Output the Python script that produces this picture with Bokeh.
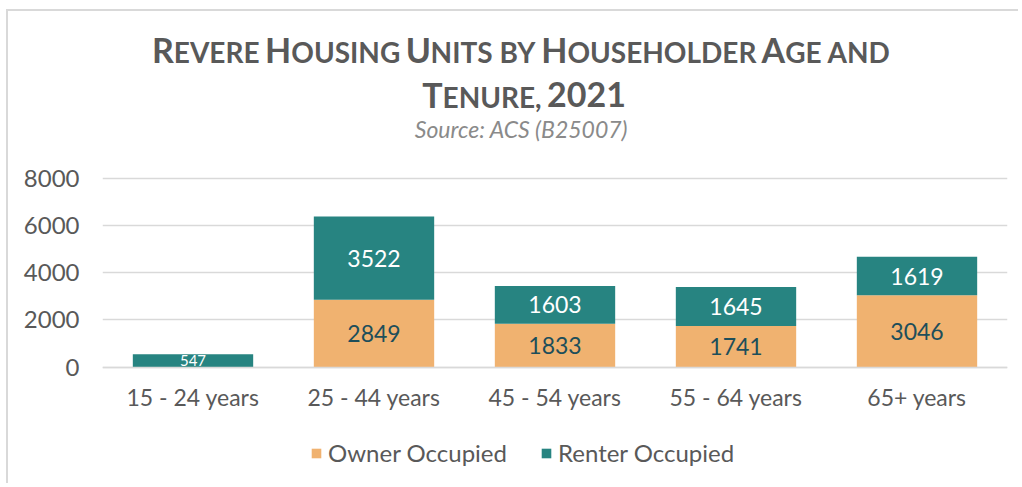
from bokeh.plotting import figure
from bokeh.models import (ColumnDataSource, Range1d, FactorRange, FixedTicker,
                          LabelSet, Label, Legend, LegendItem)
from bokeh.core.properties import value
from bokeh.embed import file_html
from bokeh.resources import INLINE

# ---------------- data ----------------
categories = ["15 - 24 years", "25 - 44 years", "45 - 54 years", "55 - 64 years", "65+ years"]
owner = [0, 2849, 1833, 1741, 3046]
renter = [547, 3522, 1603, 1645, 1619]
series = ["Owner Occupied", "Renter Occupied"]
y_ticks = [0, 2000, 4000, 6000, 8000]
title_lines = ["Revere Housing Units by Householder Age and", "Tenure, 2021"]
subtitle = "Source: ACS (B25007)"

# ---------------- style / layout ----------------
ORANGE = "#F0B270"
TEAL = "#278481"
GRAY = "#595959"
FONT = "Lato"
OX, OY = 8, 11          # canvas offset on the page (css margin + border)
W, H = 1012, 474
ML, MR = 94, 13
FW = W - ML - MR
PXU = (366.7 - 177.5) / 8000.0     # pixels per unit
Y0 = 366.7 - OY                    # canvas y of value 0
YTOP = Y0 / PXU
YBOT = -(H - Y0) / PXU


def dx(page_x):
    return (page_x - OX - ML) / (FW / len(categories))


def dy(page_y):
    return (Y0 - (page_y - OY)) / PXU


p = figure(x_range=FactorRange(*categories), y_range=Range1d(YBOT, YTOP),
           width=W, height=H, output_backend="svg", toolbar_location=None,
           min_border_left=ML, min_border_right=MR, min_border_top=0,
           min_border_bottom=0)
p.outline_line_color = None
p.background_fill_color = "white"
p.border_fill_color = "white"
p.styles = {"margin-left": "6px", "margin-top": "9px",
            "border-left": "2px solid #D9D9D9", "border-top": "2px solid #D9D9D9"}

src = ColumnDataSource(dict(cat=categories, owner=owner, renter=renter))
rs = p.vbar_stack(["owner", "renter"], x="cat", width=0.665, color=[ORANGE, TEAL],
                  line_color=None, source=src)

# data labels
lx, ly, lt, lc, ls = [], [], [], [], []
for c, o, r in zip(categories, owner, renter):
    if o > 0:
        lx.append(c); ly.append(o / 2); lt.append(str(o)); lc.append("#1D4E5A"); ls.append("23px")
    lx.append(c); ly.append(o + r / 2); lt.append(str(r)); lc.append("white")
    ls.append("23px" if r > 1000 else "15px")
lab_src = ColumnDataSource(dict(x=lx, y=ly, t=lt, c=lc, s=ls))
p.add_layout(LabelSet(x="x", y="y", text="t", source=lab_src, text_align="center",
                      text_baseline="middle", text_color="c", text_font_size="s",
                      text_font=value(FONT)))

# axes
p.xgrid.grid_line_color = None
p.ygrid.grid_line_color = "#D9D9D9"
p.ygrid.grid_line_width = 1.5
p.yaxis.ticker = FixedTicker(ticks=y_ticks)
p.yaxis.axis_line_color = None
p.yaxis.major_tick_line_color = None
p.yaxis.minor_tick_line_color = None
p.yaxis.major_label_standoff = 17
p.yaxis.major_label_text_font = FONT
p.yaxis.major_label_text_font_size = "24px"
p.yaxis.major_label_text_color = GRAY
p.xaxis.fixed_location = 0
p.xaxis.axis_line_color = "#D9D9D9"
p.xaxis.axis_line_width = 1.5
p.xaxis.major_tick_line_color = None
p.xaxis.minor_tick_line_color = None
p.xaxis.major_label_standoff = 10
p.xaxis.major_label_text_font = FONT
p.xaxis.major_label_text_font_size = "23px"
p.xaxis.major_label_text_color = GRAY

# legend
legend = Legend(items=[LegendItem(label=series[0], renderers=[rs[0]]),
                       LegendItem(label=series[1], renderers=[rs[1]])],
                orientation="horizontal", location=(310 - OX - ML, H - 452 + OY - 15),
                glyph_width=12, glyph_height=12, label_standoff=6, spacing=33,
                padding=0, margin=0, border_line_color=None,
                background_fill_alpha=0, label_text_font=FONT,
                label_text_font_size="24px", label_text_color=GRAY)
p.add_layout(legend)

# title with emulated small caps
EM = {"A": .70, "B": .66, "D": .76, "E": .57, "G": .73, "H": .77, "I": .30, "L": .52,
      "N": .77, "O": .81, "R": .64, "S": .54, "T": .60, "U": .73, "V": .70, "Y": .66,
      ",": .24, " ": .21}
CAP, SMALL = 34, 28


def runs_of(line):
    out = []
    for ch in line:
        size = CAP if (ch.isupper() or ch.isdigit()) else SMALL
        if out and out[-1][1] == size:
            out[-1][0] += ch.upper()
        else:
            out.append([ch.upper(), size])
    return out


def width(s, size):
    return sum(EM.get(ch, .58) for ch in s) * size


for line, base_y, center_x in zip(title_lines, [62, 107], [520.5, 523.5]):
    runs = runs_of(line)
    total = sum(width(s, z) for s, z in runs)
    x = center_x - total / 2
    for s, z in runs:
        txt = s.strip()
        lead = len(s) - len(s.lstrip())
        xs = x + width(" " * lead, z)
        if txt:
            p.add_layout(Label(x=dx(xs), y=dy(base_y - 0.387 * z), text=txt,
                               text_align="left", text_baseline="middle",
                               text_font=FONT, text_font_style="bold",
                               text_font_size=f"{z}px", text_color=GRAY))
        x += width(s, z)

p.add_layout(Label(x=dx(521), y=dy(137 - 0.387 * 23), text=subtitle, text_align="center",
                   text_baseline="middle", text_font=FONT, text_font_style="italic",
                   text_font_size="23px", text_color="#8A8A8A"))

open("out.html", "w").write(file_html(p, INLINE))
